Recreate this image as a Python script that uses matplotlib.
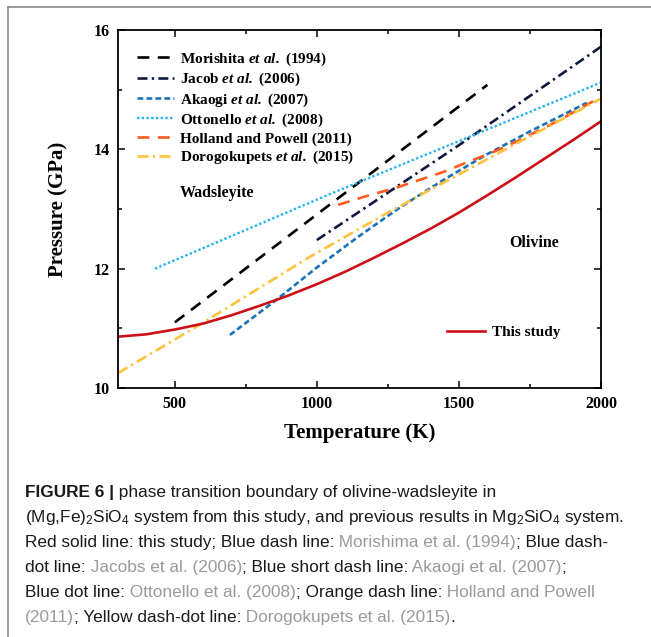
import matplotlib
matplotlib.use("Agg")
import matplotlib.pyplot as plt
from matplotlib.lines import Line2D

plt.rcParams["font.family"] = ["Liberation Serif", "DejaVu Serif"]
plt.rcParams["font.weight"] = "bold"
plt.rcParams["mathtext.fontset"] = "custom"
plt.rcParams["mathtext.rm"] = "Liberation Serif:bold"
plt.rcParams["mathtext.bf"] = "Liberation Serif:bold"
plt.rcParams["mathtext.it"] = "Liberation Serif:italic:bold"
plt.rcParams["mathtext.bfit"] = "Liberation Serif:italic:bold"
plt.rcParams["mathtext.sf"] = "Liberation Sans:normal"

# --- data (temperature K, pressure GPa) ---
morishita_t = [500, 1600]
morishita_p = [11.10, 15.08]

jacob_t = [1000, 1500, 2000]
jacob_p = [12.48, 14.07, 15.72]

akaogi_t = [694, 850, 1000, 1150, 1300, 1450, 1600, 1750, 1950]
akaogi_p = [10.89, 11.45, 12.02, 12.55, 13.05, 13.50, 13.92, 14.30, 14.78]

ottonello_t = [430, 1046, 1680, 2000]
ottonello_p = [12.00, 13.25, 14.49, 15.12]

holland_t = [1075, 1163, 1281, 1363, 1451, 1527, 1609, 1703, 1850, 2000]
holland_p = [13.07, 13.20, 13.36, 13.49, 13.63, 13.78, 13.93, 14.13, 14.48, 14.88]

doro_t = [300, 577, 976, 1246, 1398, 1703, 2000]
doro_p = [10.25, 11.03, 12.20, 12.93, 13.32, 14.10, 14.85]

study_t = [300, 400, 500, 600, 700, 800, 900, 1000, 1100, 1200, 1300,
           1400, 1500, 1600, 1700, 1800, 1900, 2000]
study_p = [10.86, 10.90, 10.98, 11.08, 11.22, 11.38, 11.55, 11.74, 11.95,
           12.18, 12.42, 12.67, 12.94, 13.23, 13.53, 13.84, 14.15, 14.47]

W, H = 651, 637
fig = plt.figure(figsize=(W / 100, H / 100), dpi=100)
ax = fig.add_axes([118 / W, 1 - 388 / H, 483 / W, 358 / H])

lw = 1.9
h1, = ax.plot(morishita_t, morishita_p, color="black", lw=lw, dashes=(4.5, 3.2),
              label=r"Morishita $\mathbfit{et\ al.}$ (1994)")
h2, = ax.plot(jacob_t, jacob_p, color="#101a40", lw=lw, dashes=(3.8, 1.6, 0.9, 1.6),
              label=r"Jacob $\mathbfit{et\ al.}$ (2006)")
h3, = ax.plot(akaogi_t, akaogi_p, color="#1a72b8", lw=lw, dashes=(2.2, 1.2),
              label=r"Akaogi $\mathbfit{et\ al.}$ (2007)")
h4, = ax.plot(ottonello_t, ottonello_p, color="#22b2ee", lw=1.7, dashes=(1, 1),
              label=r"Ottonello $\mathbfit{et\ al.}$ (2008)")
h5, = ax.plot(holland_t, holland_p, color="#ff5a1f", lw=lw, dashes=(4.5, 3.2),
              label="Holland and Powell (2011)")
h6, = ax.plot(doro_t, doro_p, color="#ffc23c", lw=lw, dashes=(4.2, 1.6, 0.9, 1.6),
              label=r"Dorogokupets $\mathbfit{et\ al.}$ (2015)")
h7, = ax.plot(study_t, study_p, color="#cc1018", lw=lw, label="This study")

ax.set_xlim(300, 2000)
ax.set_ylim(10, 16)
ax.set_xticks([500, 1000, 1500, 2000])
ax.set_xticks([750, 1250, 1750], minor=True)
ax.set_yticks([10, 12, 14, 16])
ax.set_yticks([11, 13, 15], minor=True)
ax.tick_params(which="both", direction="in", top=True, right=True,
               labelsize=11.5, width=1.1)
ax.tick_params(which="major", length=5, pad=6)
ax.tick_params(which="minor", length=3)
for s in ax.spines.values():
    s.set_linewidth(1.3)

ax.set_xlabel("Temperature (K)", fontsize=15, fontweight="bold", labelpad=8)
ax.set_ylabel("Pressure (GPa)", fontsize=15, fontweight="bold", labelpad=18)

leg = ax.legend(handles=[h1, h2, h3, h4, h5, h6], loc="upper left",
                bbox_to_anchor=(0.039, 0.943), frameon=False, fontsize=11,
                handlelength=2.4, handletextpad=0.45, labelspacing=0.2,
                borderpad=0, borderaxespad=0)
ax.add_artist(leg)
ax.legend(handles=[h7], loc="center left", bbox_to_anchor=(0.681, 0.155),
          frameon=False, fontsize=11, handlelength=2.5, handletextpad=0.45,
          borderpad=0, borderaxespad=0)

ax.text(518, 13.27, "Wadsleyite", fontsize=11.5, ha="left", va="center")
ax.text(1764, 12.43, "Olivine", fontsize=11.5, ha="center", va="center")

# outer frame of the figure panel
fig.add_artist(Line2D([8 / W, 8 / W], [0, 1 - 7 / H], color="#8a8a8a", lw=1.2,
                      transform=fig.transFigure))
fig.add_artist(Line2D([8 / W, 1], [1 - 7 / H, 1 - 7 / H], color="#8a8a8a", lw=1.2,
                      transform=fig.transFigure))

# caption, drawn piece by piece to mix weights and colours
BLK, GRY = "#1a1a1a", "#9a9a9a"
caption = [
    [("FIGURE 6 |", BLK, "bold"), (" phase transition boundary of olivine-wadsleyite in", BLK, "normal")],
    [(r"(Mg,Fe)$_\mathsf{2}$SiO$_\mathsf{4}$ system from this study, and previous results in Mg$_\mathsf{2}$SiO$_\mathsf{4}$ system.", BLK, "normal")],
    [("Red solid line: this study; Blue dash line:", BLK, "normal"), (" Morishima et al. (1994)", GRY, "normal"),
     ("; Blue dash-", BLK, "normal")],
    [("dot line:", BLK, "normal"), (" Jacobs et al. (2006)", GRY, "normal"), ("; Blue short dash line:", BLK, "normal"),
     (" Akaogi et al. (2007)", GRY, "normal"), (";", BLK, "normal")],
    [("Blue dot line:", BLK, "normal"), (" Ottonello et al. (2008)", GRY, "normal"),
     ("; Orange dash line:", BLK, "normal"), (" Holland and Powell", GRY, "normal")],
    [("(2011)", GRY, "normal"), ("; Yellow dash-dot line:", BLK, "normal"),
     (" Dorogokupets et al. (2015)", GRY, "normal"), (".", BLK, "normal")],
]
renderer = fig.canvas.get_renderer()
base_y = 497
for i, line in enumerate(caption):
    x = 25
    y = 1 - (base_y + i * 25) / H
    for s, c, wt in line:
        t = fig.text(x / W, y, s, color=c, fontsize=12.4, fontweight=wt,
                     family=["Liberation Sans", "DejaVu Sans"], va="baseline", ha="left")
        x += t.get_window_extent(renderer).width

fig.savefig("out.png", dpi=100)
